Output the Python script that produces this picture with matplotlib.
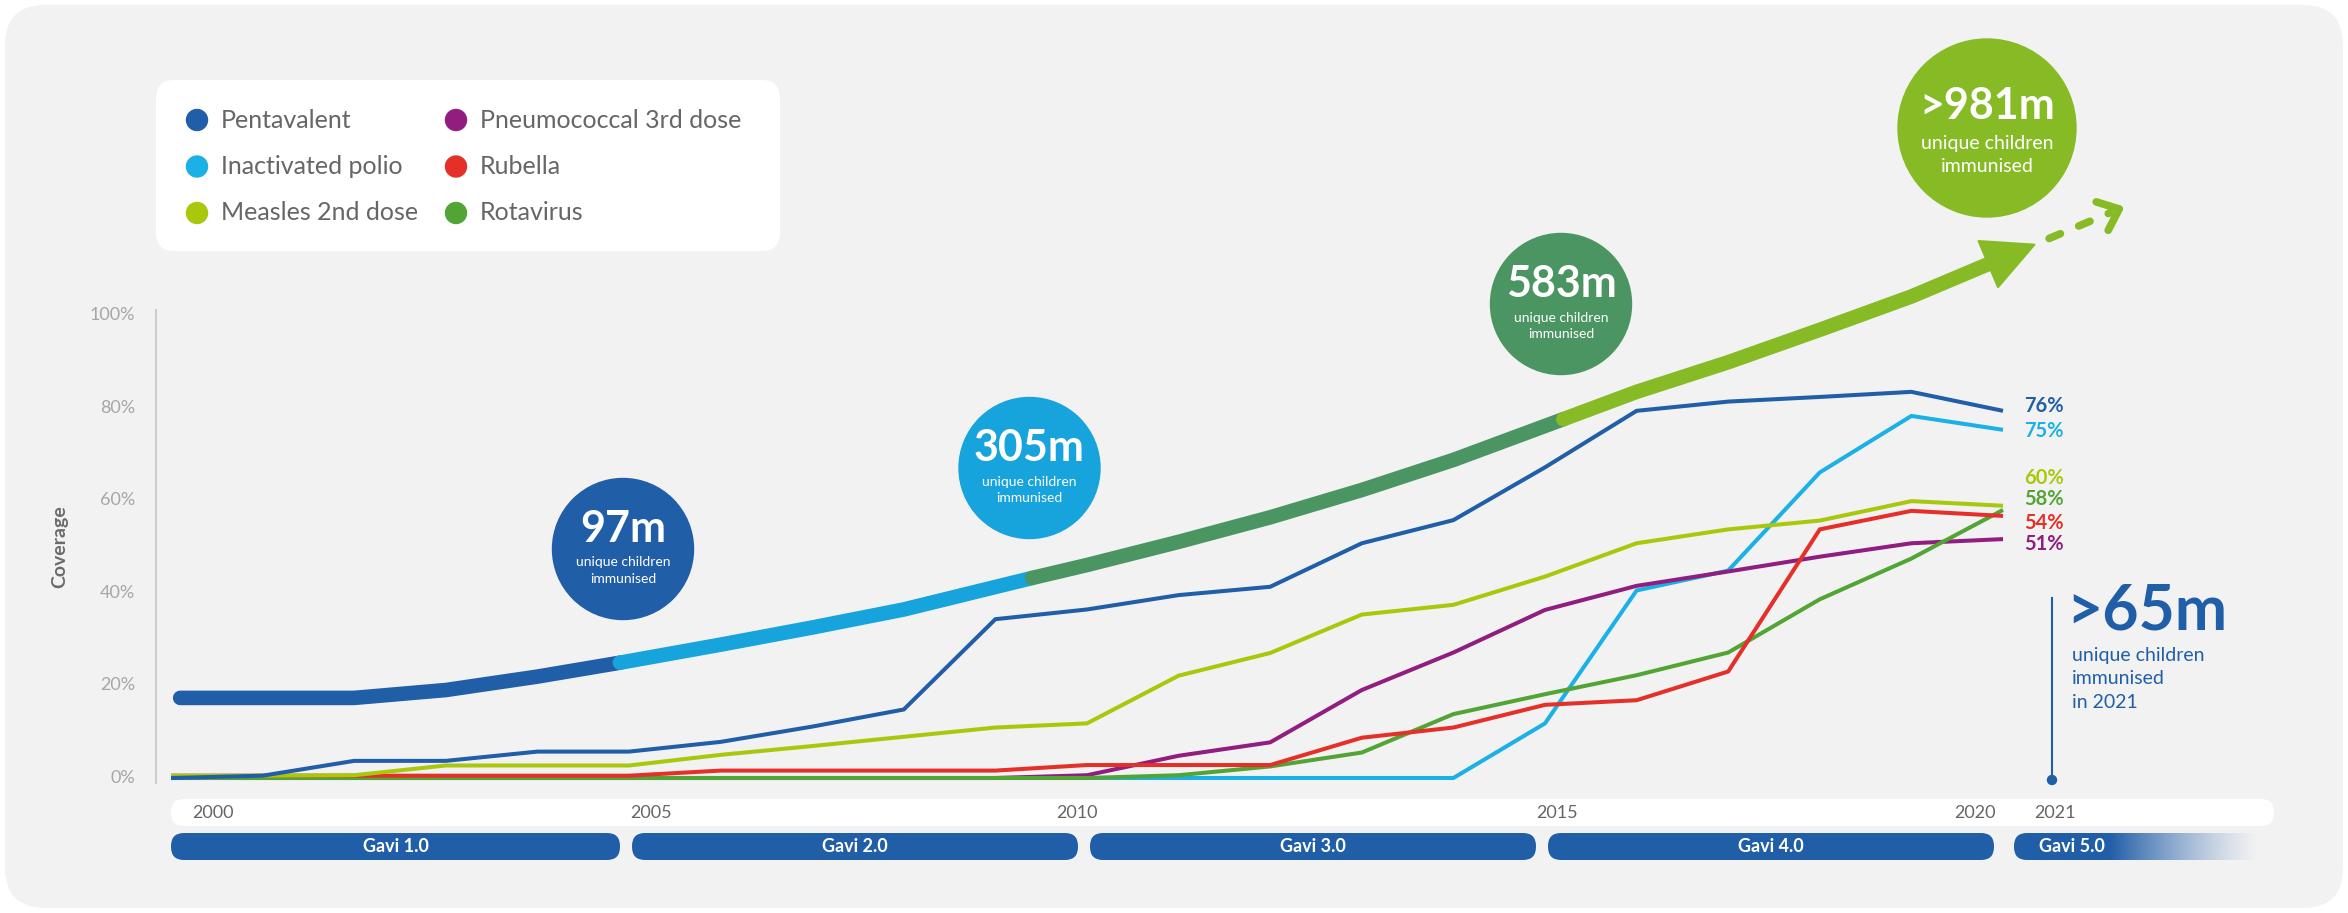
import numpy as np
import matplotlib
matplotlib.use('Agg')
import matplotlib.pyplot as plt
from matplotlib.patches import FancyBboxPatch, Circle, Polygon
from matplotlib.colors import to_rgb
from matplotlib.transforms import blended_transform_factory

plt.rcParams['font.family'] = ['Lato', 'DejaVu Sans']

# ---- data ----
years = np.arange(2000, 2021)
pentavalent = [0, 0.5, 3.7, 3.7, 5.7, 5.7, 7.8, 11.1, 14.8, 34.3, 36.4, 39.5, 41.3,
               50.7, 55.7, 67.1, 79.3, 81.3, 82.3, 83.4, 79.3]
polio = [0] * 15 + [11.8, 40.5, 44.8, 66.0, 78.2, 75.2]
measles = [0.5, 0.5, 0.6, 2.7, 2.7, 2.7, 5.0, 6.9, 8.9, 10.9, 11.8, 22.1, 27.0,
           35.3, 37.4, 43.5, 50.7, 53.7, 55.6, 59.8, 58.8]
pneumococcal = [0] * 10 + [0.6, 4.8, 7.7, 19.0, 27.1, 36.3, 41.5, 44.6, 47.8, 50.7, 51.6]
rubella = [0.5] * 6 + [1.6, 1.6, 1.6, 1.6, 2.8, 2.8, 2.8, 8.7, 10.9, 15.8, 16.8,
                       23.0, 53.7, 57.7, 56.6]
rotavirus = [0] * 11 + [0.6, 2.5, 5.5, 13.8, 18.1, 22.2, 27.1, 38.6, 47.4, 57.9]

series_names = ['Pentavalent', 'Inactivated polio', 'Measles 2nd dose',
                'Pneumococcal 3rd dose', 'Rubella', 'Rotavirus']
series_values = [pentavalent, polio, measles, pneumococcal, rubella, rotavirus]
end_labels = ['76%', '75%', '60%', '51%', '54%', '58%']

# cumulative "unique children immunised" trend arrow
trend_years = [2000.1, 2001, 2002, 2003, 2004, 2004.9, 2006, 2007, 2008, 2009.4, 2010,
               2011, 2012, 2013, 2014, 2015.2, 2016, 2017, 2018, 2019, 2019.9]
trend_values = [17.3, 17.3, 17.3, 19.0, 21.9, 24.9, 28.8, 32.5, 36.4, 43.2, 46.0,
                51.0, 56.3, 62.2, 68.7, 77.5, 83.4, 89.8, 96.8, 104.0, 111.5]
trend_breaks = [0, 5, 9, 15, 20]
milestones = ['97m', '305m', '583m', '>981m']

year_labels = ['2000', '2005', '2010', '2015', '2020', '2021']
gavi_names = ['Gavi 1.0', 'Gavi 2.0', 'Gavi 3.0', 'Gavi 4.0', 'Gavi 5.0']
gavi_start = [2000, 2005, 2010, 2015, 2020]
gavi_end = [2005, 2010, 2015, 2020, 2023]
yticks = [0, 20, 40, 60, 80, 100]

# ---- styles / layout ----
colors = ['#215ea8', '#1bb1e6', '#a9c80c', '#921d80', '#e5302a', '#52a535']
trend_colors = ['#215ea8', '#17a3dc', '#4a9562', '#86bb26']
draw_order = [1, 3, 5, 4, 2, 0]
W, H = 2348, 913
x0_px, yr_px, y0_px, pct_px = 171, 91.6, 778, 4.63

fig = plt.figure(figsize=(W / 100, H / 100), dpi=100, facecolor='white')
px = fig.add_axes([0, 0, 1, 1])
px.axis('off')
ax = fig.add_axes([0, 0, 1, 1])
ax.patch.set_alpha(0)
ax.axis('off')
ax.set_xlim(2000 - x0_px / yr_px, 2000 + (W - x0_px) / yr_px)
ax.set_ylim(-(H - y0_px) / pct_px, y0_px / pct_px)
bl = blended_transform_factory(px.transData, ax.transData)


def to_px(x, y):
    d = ax.transData.transform(np.column_stack([x, y]))
    return px.transData.inverted().transform(d)


# background panel
px.add_patch(FancyBboxPatch((5, 5), W - 10, H - 10, boxstyle='round,pad=0,rounding_size=40',
                            fc='#f2f2f2', ec='none'))

# legend box
px.add_patch(FancyBboxPatch((156, 80), 624, 171, boxstyle='round,pad=0,rounding_size=18',
                            fc='white', ec='none'))
for i, (name, c) in enumerate(zip(series_names, colors)):
    col, row = divmod(i, 3)
    cx = 197 + col * 259
    cy = 120 + row * 46.5
    px.add_patch(Circle((cx, cy), 10.5, color=c))
    px.text(cx + 24, cy, name, va='center', ha='left', fontsize=18, color='#666666')

# year strip
px.add_patch(FancyBboxPatch((171, 799), 2103, 27, boxstyle='round,pad=0,rounding_size=13',
                            fc='white', ec='none'))

# Gavi 5.0 fade
gavi5_img = None

# Gavi periods
for name, s, e in zip(gavi_names, gavi_start, gavi_end):
    xs = [x0_px + (s - 2000) * yr_px, x0_px + (e - 2000) * yr_px]
    left = xs[0] + 3 if s > 2000 else xs[0]
    right = xs[1] - 9
    if name != 'Gavi 5.0':
        px.add_patch(FancyBboxPatch((left, 833), right - left, 27,
                                    boxstyle='round,pad=0,rounding_size=13',
                                    fc='#215ea8', ec='none'))
        px.text((left + right) / 2, 847, name, ha='center', va='center', fontsize=13,
                fontweight='bold', color='white')
    else:
        left = xs[0] + 11
        right = 2268
        clip = FancyBboxPatch((left, 833), right - left, 27,
                              boxstyle='round,pad=0,rounding_size=13', fc='none', ec='none')
        px.add_patch(clip)
        cols = np.linspace(left, right, 400)
        alpha = np.clip(1 - (cols - 2110) / 150, 0, 1) ** 1.3
        img = np.zeros((1, 400, 4))
        img[0, :, :3] = to_rgb('#215ea8')
        img[0, :, 3] = alpha
        im = px.imshow(img, extent=(left, right, 860, 833), aspect='auto',
                       interpolation='bilinear', zorder=1)
        im.set_clip_path(clip)
        px.text(left + 58, 847, name, ha='center', va='center', fontsize=13,
                fontweight='bold', color='white', zorder=2)

px.set_xlim(0, W)
px.set_ylim(H, 0)

label_pos = [2000.46, 2005.24, 2009.89, 2015.13, 2019.69, 2020.57]
for lab, x in zip(year_labels, label_pos):
    px.text(x0_px + (x - 2000) * yr_px, 813, lab, ha='center', va='center',
            fontsize=13, color='#666666')

# y axis
ax.plot([156, 156], [-1.1, 101], color='#cccccc', lw=1.5, transform=bl)
for v in yticks:
    ax.text(135, v, f'{v}%', transform=bl, ha='right', va='center', fontsize=13, color='#a6a6a6')
ax.text(60, 50, 'Coverage', transform=bl, rotation=90, ha='center', va='center',
        fontsize=14, fontweight='bold', color='#6b6b6b')

# coverage lines
for i in draw_order:
    ax.plot(years, series_values[i], color=colors[i], lw=2.9, solid_joinstyle='miter',
            solid_capstyle='butt', zorder=3)

# end labels
label_y = [80.3, 75.0, 64.9, 50.5, 55.1, 60.3]
for lab, yv, c in zip(end_labels, label_y, colors):
    ax.text(2020.23, yv, lab, ha='left', va='center', fontsize=14.5, fontweight='bold', color=c)

# trend arrow
for k in range(4):
    a, b = trend_breaks[k], trend_breaks[k + 1]
    ax.plot(trend_years[a:b + 1], trend_values[a:b + 1], color=trend_colors[k], lw=10.5,
            solid_capstyle='round', solid_joinstyle='round', zorder=4)
pts = to_px(trend_years[-2:], trend_values[-2:])
E = pts[1]
u = (pts[1] - pts[0]) / np.linalg.norm(pts[1] - pts[0])
nrm = np.array([-u[1], u[0]])
base = E - 6 * u
tip = E + 44 * u
px.add_patch(Polygon([tip, base + 25 * nrm, base - 25 * nrm], closed=True, fc='#86bb26',
                     ec='#86bb26', lw=1.5, joinstyle='round', zorder=5))
S = tip + 16 * u
D = S + 66 * u
ax.plot(*zip(*[S, D]), transform=px.transData, color='#86bb26', lw=5.5,
        linestyle=(0, (1.6, 2.6)), dash_capstyle='round', zorder=5)
C = D + 10 * u
for ang in (np.deg2rad(40), np.deg2rad(-40)):
    rot = np.array([[np.cos(ang), -np.sin(ang)], [np.sin(ang), np.cos(ang)]])
    arm = C - 24 * rot.dot(u)
    ax.plot([C[0], arm[0]], [C[1], arm[1]], transform=px.transData, color='#86bb26',
            lw=5.5, solid_capstyle='round', zorder=5)

# milestone bubbles
bubble_xy = [(623, 549), (1029.5, 468), (1561, 304), (1987, 128)]
bubble_r = [70.5, 70.5, 70.5, 89]
for k, (lab, (bx, by), r) in enumerate(zip(milestones, bubble_xy, bubble_r)):
    px.add_patch(Circle((bx, by), r, color=trend_colors[k]))
    big = k == 3
    px.text(bx, by - (22 if big else 20), lab, ha='center', va='center', fontsize=31,
            fontweight='bold', color='white')
    small = 14 if big else 10
    px.text(bx, by + (15.5 if big else 13.5), 'unique children', ha='center', va='center',
            fontsize=small, color='white')
    px.text(bx, by + (39 if big else 30), 'immunised', ha='center', va='center',
            fontsize=small, color='white')

# 2021 callout
px.plot([2052, 2052], [598, 780], color='#215ea8', lw=1.5)
px.add_patch(Circle((2052, 780), 4.5, color='#215ea8'))
px.text(2066, 611, '>65m', ha='left', va='center', fontsize=45, fontweight='bold', color='#215ea8')
for j, line in enumerate(['unique children', 'immunised', 'in 2021']):
    px.text(2072, 656 + j * 23, line, ha='left', va='center', fontsize=14, color='#215ea8')

px.set_xlim(0, W)
px.set_ylim(H, 0)
fig.savefig('out.png', dpi=100, facecolor='white')
